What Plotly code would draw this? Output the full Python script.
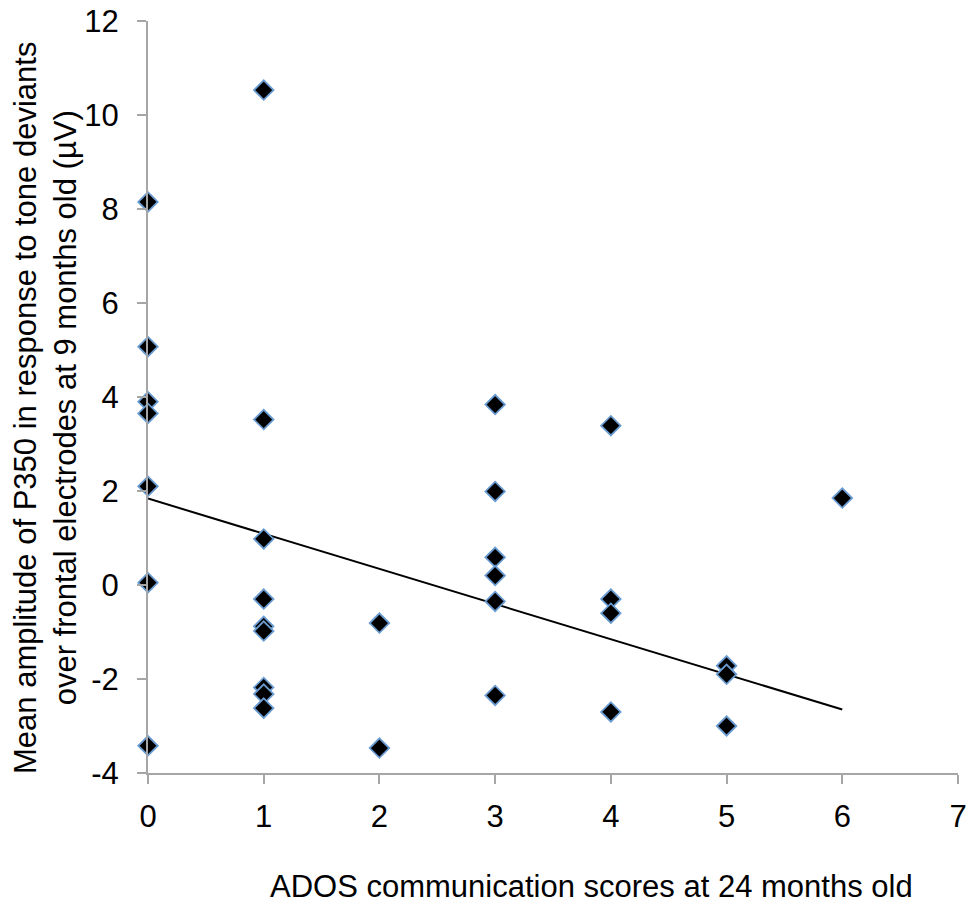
import plotly.graph_objects as go

# ADOS communication score (x) and mean P350 amplitude in µV (y), one entry per infant
ados_scores = [0, 0, 0, 0, 0, 0, 0,
               1, 1, 1, 1, 1, 1, 1, 1, 1,
               2, 2,
               3, 3, 3, 3, 3, 3,
               4, 4, 4, 4,
               5, 5, 5,
               6]
p350_amplitude = [8.15, 5.07, 3.9, 3.65, 2.1, 0.05, -3.42,
                  10.53, 3.52, 0.98, -0.3, -0.88, -0.98, -2.18, -2.32, -2.62,
                  -0.81, -3.47,
                  3.84, 1.99, 0.59, 0.2, -0.35, -2.35,
                  3.39, -0.3, -0.6, -2.7,
                  -1.72, -1.9, -3.0,
                  1.85]

# Linear trend line end points
trend_x = [0, 6]
trend_y = [1.84, -2.65]

x_ticks = [0, 1, 2, 3, 4, 5, 6, 7]
y_ticks = [-4, -2, 0, 2, 4, 6, 8, 10, 12]
y_tick_text = ["-4", "-2", "0", "2", "4", "6", "8", "10", "12"]

FONT = "Liberation Sans, Arial, sans-serif"
AXIS_GREY = "#a6a6a6"
L, R, T, B = 148, 14, 21, 130
W, H = 972, 903
PW, PH = W - L - R, H - T - B

fig = go.Figure()
fig.add_trace(go.Scatter(
    x=trend_x, y=trend_y, mode="lines",
    line=dict(color="black", width=2),
    hoverinfo="skip", showlegend=False,
))
fig.add_trace(go.Scatter(
    x=ados_scores, y=p350_amplitude, mode="markers",
    marker=dict(symbol="diamond", size=15, color="black",
                line=dict(color="#6a9bd1", width=1.8)),
    cliponaxis=False, showlegend=False,
))

axis_common = dict(
    showgrid=False, zeroline=False, automargin=False,
    showline=True, linecolor=AXIS_GREY, linewidth=2,
    ticks="outside", ticklen=9, tickwidth=2, tickcolor=AXIS_GREY,
    tickfont=dict(size=31),
)

fig.update_layout(
    width=W, height=H,
    margin=dict(l=L, r=R, t=T, b=B),
    paper_bgcolor="white", plot_bgcolor="white",
    font=dict(family=FONT, size=31, color="black"),
    xaxis=dict(range=[0, 7], tickvals=x_ticks, ticklabelstandoff=6, **axis_common),
    yaxis=dict(range=[-4, 12], tickvals=y_ticks, ticktext=y_tick_text,
               ticklabelstandoff=12, **axis_common),
    annotations=[
        dict(text="ADOS communication scores at 24 months old",
             xref="paper", yref="paper", x=(591 - L) / PW, y=-(886 - (T + PH)) / PH,
             xanchor="center", yanchor="middle", showarrow=False,
             font=dict(size=31)),
        dict(text="Mean amplitude of P350 in response to tone deviants<br>"
                  "over frontal electrodes at 9 months old (µV)",
             xref="paper", yref="paper", x=-(L - 45) / PW, y=(T + PH - 408) / PH,
             xanchor="center", yanchor="middle", textangle=-90, showarrow=False,
             font=dict(size=31)),
    ],
)

fig.write_html("out.html")
